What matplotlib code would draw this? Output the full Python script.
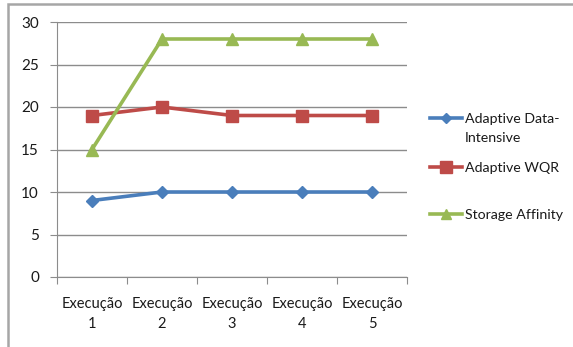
import matplotlib
matplotlib.use("Agg")
import matplotlib.pyplot as plt
from matplotlib.lines import Line2D
from matplotlib.patches import Rectangle

categories = ["Execução\n1", "Execução\n2", "Execução\n3", "Execução\n4", "Execução\n5"]
adaptive_data_intensive = [9, 10, 10, 10, 10]
adaptive_wqr = [19, 20, 19, 19, 19]
storage_affinity = [15, 28, 28, 28, 28]
series_names = ["Adaptive Data-\nIntensive", "Adaptive WQR", "Storage Affinity"]

colors = ["#4a7ebb", "#be4b48", "#98b954"]
markers = ["D", "s", "^"]
msizes = [6, 8, 8]
legend_msizes = [5, 8, 7]

plt.rcParams["font.family"] = ["Lato", "DejaVu Sans"]

W, H = 573, 347
fig = plt.figure(figsize=(W / 100, H / 100), dpi=100)
fig.patch.set_facecolor("white")

# outer chart frame
fig.add_artist(Rectangle((8 / W, -0.1), 1.2, 1 - 4 / H + 0.1, transform=fig.transFigure,
                         fill=False, edgecolor="#a6a6a6", linewidth=1.8))

ax = fig.add_axes([57 / W, 1 - 277 / H, 350 / W, 255 / H])
x = list(range(len(categories)))
all_series = [adaptive_data_intensive, adaptive_wqr, storage_affinity]
for vals, c, m, ms in zip(all_series, colors, markers, msizes):
    ax.plot(x, vals, color=c, linewidth=2.6, marker=m, markersize=ms,
            markeredgecolor=c, markerfacecolor=c, zorder=3, clip_on=False)

ax.set_xlim(-0.5, len(categories) - 0.5)
ax.set_ylim(0, 30)
ax.set_yticks(range(0, 31, 5))
ax.yaxis.grid(True, color="#8c8c8c", linewidth=1.0)
ax.set_axisbelow(True)
for s in ["top", "right"]:
    ax.spines[s].set_visible(False)
ax.spines["left"].set_color("#8c8c8c")
ax.spines["bottom"].set_color("#8c8c8c")
ax.tick_params(axis="y", length=5, color="#8c8c8c", labelsize=11, labelcolor="#1a1a1a", pad=8)

ax.set_xticks([i - 0.5 for i in range(len(categories) + 1)])
ax.set_xticklabels([])
ax.tick_params(axis="x", length=5, color="#8c8c8c")
for i, lab in enumerate(categories):
    ax.text(i, -2.3, lab, ha="center", va="top", fontsize=10.5, color="#1a1a1a",
            linespacing=1.55, transform=ax.transData)

# legend
leg_y = [118, 167, 214]
for name, c, m, ms, y in zip(series_names, colors, markers, legend_msizes, leg_y):
    yf = 1 - y / H
    fig.add_artist(Line2D([430 / W, 462 / W], [yf, yf], transform=fig.transFigure,
                          color=c, linewidth=2.6))
    fig.add_artist(Line2D([446 / W], [yf], transform=fig.transFigure, color=c,
                          marker=m, markersize=ms, markeredgecolor=c, markerfacecolor=c))
    for k, part in enumerate(name.split("\n")):
        fig.text(465 / W, 1 - (y + 1 + 19 * k) / H, part, ha="left", va="center",
                 fontsize=10.2, color="#1a1a1a")

fig.savefig("out.png", dpi=100)
